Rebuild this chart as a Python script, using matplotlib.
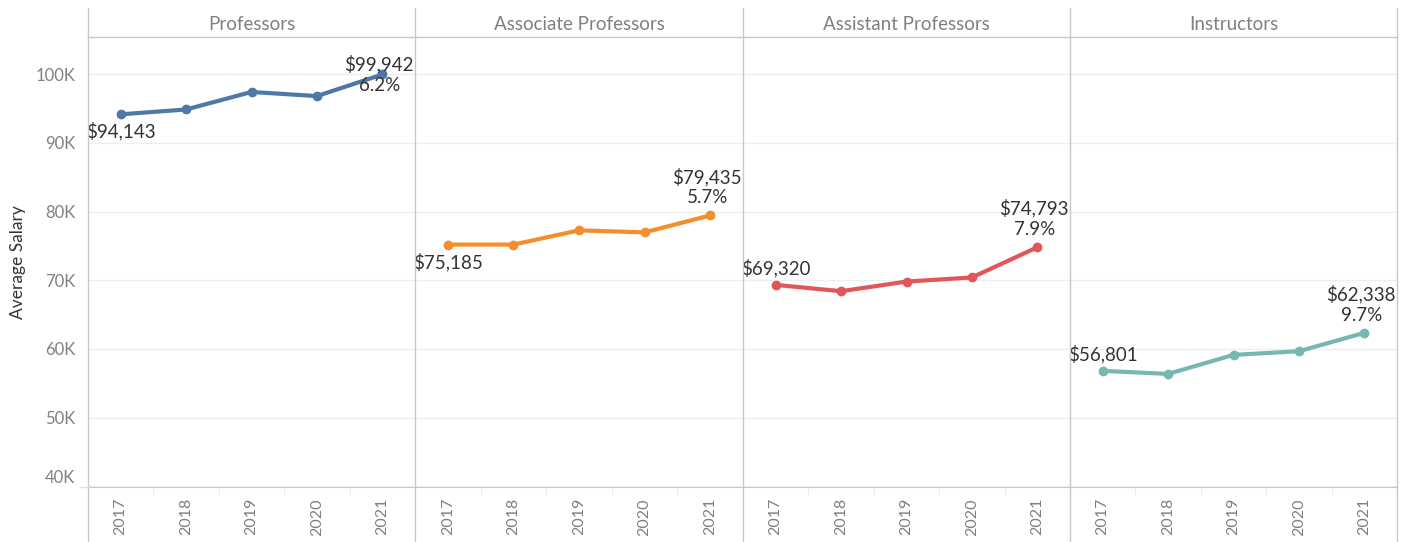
import matplotlib
matplotlib.use('Agg')
import matplotlib.pyplot as plt
import matplotlib.transforms as mtransforms
from matplotlib.lines import Line2D

###################################################################
## data

years = ['2017', '2018', '2019', '2020', '2021']
ranks = ['Professors', 'Associate Professors', 'Assistant Professors', 'Instructors']
professors = [94143, 94850, 97400, 96800, 99942]
associate = [75185, 75185, 77260, 76960, 79435]
assistant = [69320, 68400, 69800, 70400, 74793]
instructors = [56801, 56360, 59130, 59660, 62338]
first_label_pos = ['below', 'below', 'above', 'above']   ## where the 2017 label sits
last_label_pos = ['center', 'above', 'above', 'above']   ## where the 2021 label sits

series = [professors, associate, assistant, instructors]
colors = ['#4e79a7', '#f28e2b', '#e15759', '#76b7b2']

###################################################################
## layout (pixels)
W, H = 1412, 542
edges = [88, 415, 743, 1070, 1397]
top_hdr, top_plot, bottom_plot = 8, 37, 487
ylim = (39900, 105400)

grey_line = '#c8c8c8'
grey_text = '#808080'
plt.rcParams['font.family'] = ['Lato', 'DejaVu Sans']

fig = plt.figure(figsize=(W/100, H/100), dpi=100)

def fx(x):
    return x/W

def fy(y):
    return 1 - y/H

for i, (name, vals, col) in enumerate(zip(ranks, series, colors)):
    ax = fig.add_axes([fx(edges[i]), fy(bottom_plot), fx(edges[i+1]-edges[i]), (bottom_plot-top_plot)/H])
    xs = range(len(years))
    ax.plot(xs, vals, color=col, lw=3, marker='o', markersize=6, solid_capstyle='round', zorder=3, clip_on=False)
    ax.set_xlim(-0.5, len(years)-0.5)
    ax.set_ylim(*ylim)
    ax.set_yticks(range(40000, 100001, 10000))
    ax.grid(axis='y', color='#efefef', lw=1)
    ax.set_axisbelow(True)
    ax.set_xticks(list(xs))
    ax.set_xticklabels(years, rotation=90, fontsize=11.5, color=grey_text)
    ax.tick_params(axis='x', length=0, pad=8)
    ax.set_xticks([0.5, 1.5, 2.5, 3.5], minor=True)
    ax.tick_params(axis='x', which='minor', length=6, color='#e8e8e8')
    if i == 0:
        ax.set_yticklabels(['%dK' % (v//1000) for v in range(40000, 100001, 10000)], fontsize=12, color=grey_text)
        ax.tick_params(axis='y', length=0, pad=9)
        ## tableau lifts the bottom label to keep it inside the pane
        lab = ax.get_yticklabels()[0]
        lab.set_transform(lab.get_transform() + mtransforms.ScaledTranslation(0, 10/100, fig.dpi_scale_trans))
        ax.set_ylabel('Average Salary', fontsize=12.5, color='#333333')
        ax.yaxis.set_label_coords(-0.19, 0.5)
    else:
        ax.tick_params(axis='y', length=0, labelleft=False)
    for s in ['top', 'left', 'right']:
        ax.spines[s].set_visible(False)
    ax.spines['bottom'].set_color(grey_line)

    ## 2017 label
    off = {'below': -17, 'above': 17}[first_label_pos[i]]
    ax.annotate('${:,}'.format(vals[0]), (0, vals[0]), xytext=(0, off), textcoords='offset pixels',
                ha='center', va='center', fontsize=13.5, color='#333333')
    ## 2021 label
    pct = '%.1f%%' % ((vals[-1]/vals[0]-1)*100)
    txt = '${:,}\n{}'.format(vals[-1], pct)
    if last_label_pos[i] == 'center':
        ax.annotate(txt, (4, vals[-1]), xytext=(-3, 0), textcoords='offset pixels',
                    ha='center', va='center', fontsize=13.5, color='#333333', linespacing=1.25,
                    annotation_clip=False)
    else:
        ax.annotate(txt, (4, vals[-1]), xytext=(-3, 9), textcoords='offset pixels',
                    ha='center', va='bottom', fontsize=13.5, color='#333333', linespacing=1.25,
                    annotation_clip=False)

    ## panel header
    fig.text(fx((edges[i]+edges[i+1])/2), fy(24), name,
             ha='center', va='center', fontsize=13.5, color=grey_text)

## frame lines: panel separators and header rule
for e in edges:
    fig.add_artist(Line2D([fx(e), fx(e)], [fy(top_hdr), 0], color=grey_line, lw=1))
fig.add_artist(Line2D([fx(edges[0]), fx(edges[-1])], [fy(top_plot), fy(top_plot)], color=grey_line, lw=1))
fig.add_artist(Line2D([fx(80), fx(88)], [fy(bottom_plot), fy(bottom_plot)], color='#e0e0e0', lw=1))

fig.savefig('out.png', dpi=100, facecolor='white')
